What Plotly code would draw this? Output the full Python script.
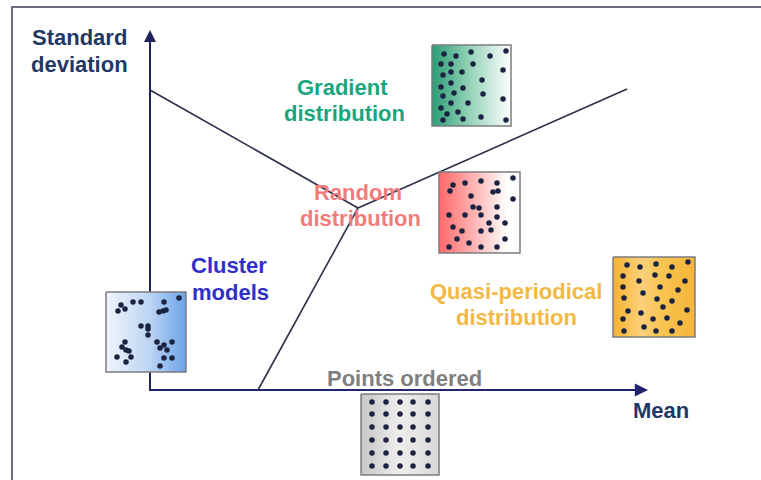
import plotly.graph_objects as go

# ---------------- data ----------------
# axes (diagram units: x = mean, y = std-dev, screen-like orientation)
yaxis_x = [150, 150]
yaxis_y = [391, 34]
xaxis_x = [149, 644]
xaxis_y = [390, 390]

# regime boundaries
boundary_x = [[150, 358], [358, 627], [358, 258]]
boundary_y = [[90, 208], [208, 89], [208, 390]]

# sample boxes: name, x0, y0, x1, y1
box_names = ["gradient", "random", "quasi", "cluster", "ordered"]
box_x0 = [432, 439, 613, 106, 361]
box_y0 = [45, 172, 257, 292, 394]
box_x1 = [511, 520, 695, 186, 439]
box_y1 = [126, 253, 337, 372, 475]
box_gradients = [
    [[0, "#2a9d74"], [0.45, "#8fd0b4"], [1, "#ffffff"]],
    [[0, "#ff6868"], [0.5, "#ffc0c0"], [0.85, "#ffffff"], [1, "#ffffff"]],
    [[0, "#f6b22e"], [0.35, "#fad07a"], [0.6, "#f8c450"], [1, "#f5b53a"]],
    [[0, "#f0f5fc"], [0.55, "#bcd4f3"], [1, "#6aa3ea"]],
    [[0, "#c6c6c6"], [0.5, "#eeeeee"], [1, "#d8d8d8"]],
]

gradient_dx = [444, 456, 471, 490, 506, 441, 451, 473, 503, 443, 451, 462, 482, 451, 463,
               441, 443, 454, 483, 503, 451, 468, 441, 458, 447, 443, 463, 481, 506]
gradient_dy = [54, 56, 52, 56, 51, 64, 64, 64, 70, 75, 72, 72, 80, 83, 88,
               87, 96, 93, 94, 99, 103, 103, 108, 112, 114, 120, 119, 117, 120]

random_dx = [453, 465, 481, 497, 513, 450, 471, 493, 498, 513, 473, 479, 497, 449, 465,
             481, 497, 489, 505, 453, 462, 481, 491, 457, 469, 505, 449, 481, 497]
random_dy = [185, 183, 181, 183, 178, 191, 196, 192, 191, 199, 207, 208, 207, 215, 215,
             215, 217, 223, 223, 227, 231, 231, 230, 239, 243, 239, 247, 247, 247]

quasi_dx = [627, 640, 656, 672, 688, 623, 639, 655, 669, 685, 623, 643, 660, 678, 624,
            657, 672, 663, 628, 641, 687, 623, 653, 667, 680, 624, 644, 656, 672]
quasi_dy = [265, 267, 264, 267, 262, 276, 281, 275, 276, 281, 287, 293, 287, 290, 298,
            299, 301, 307, 311, 313, 310, 319, 319, 318, 323, 331, 327, 331, 331]

cluster_dx = [121, 118, 125, 133, 141, 164, 179, 159, 163, 166, 141, 148, 148, 148,
              125, 122, 126, 129, 117, 126, 131, 157, 164, 172, 160, 167, 164, 172, 160]
cluster_dy = [305, 311, 309, 302, 302, 302, 298, 312, 311, 310, 326, 326, 329, 335,
              342, 347, 350, 351, 357, 362, 357, 342, 345, 342, 348, 350, 358, 358, 366]

ordered_cols = [372, 386, 400, 413, 428]
ordered_rows = [402, 414, 427, 440, 453, 466]

label_text = ["Standard", "deviation", "Gradient", "distribution", "Random", "distribution",
              "Cluster", "models", "Quasi-periodical", "distribution", "Points ordered", "Mean"]
label_x = [79, 79, 342, 344, 358, 360, 229, 230, 516, 516, 404, 661]
label_y = [37, 64, 87, 113, 192, 218, 265, 292, 291, 317, 378, 410]
label_colors = ["#1f3864", "#1f3864", "#19a67c", "#19a67c", "#f07c7c", "#f07c7c",
                "#3030c8", "#3030c8", "#f4b844", "#f4b844", "#7f7f7f", "#1f3864"]

# ---------------- figure ----------------
fig = go.Figure()

# frame of the slide
fig.add_trace(go.Scatter(x=[12, 12, 761], y=[480, 7, 7], mode="lines",
                         line=dict(color="#6b7080", width=2), hoverinfo="skip"))

# axis lines (under the boxes)
fig.add_trace(go.Scatter(x=yaxis_x, y=yaxis_y, mode="lines",
                         line=dict(color="#1e2458", width=2), hoverinfo="skip"))
fig.add_trace(go.Scatter(x=xaxis_x, y=xaxis_y, mode="lines",
                         line=dict(color="#24236e", width=2.2), hoverinfo="skip"))

# boundary lines
for bx, by in zip(boundary_x, boundary_y):
    fig.add_trace(go.Scatter(x=bx, y=by, mode="lines",
                             line=dict(color="#2b3148", width=1.6), hoverinfo="skip"))

# sample boxes with gradient fill
for i, name in enumerate(box_names):
    x0, y0, x1, y1 = box_x0[i], box_y0[i], box_x1[i], box_y1[i]
    fig.add_trace(go.Scatter(
        x=[x0, x1, x1, x0, x0], y=[y0, y0, y1, y1, y0], mode="lines",
        fill="toself",
        fillgradient=dict(type="horizontal", colorscale=box_gradients[i]),
        line=dict(color="#7c7c80", width=1.5), hoverinfo="skip"))

# dots
ox = [c for r in ordered_rows for c in ordered_cols]
oy = [r for r in ordered_rows for c in ordered_cols]
all_x = gradient_dx + random_dx + quasi_dx + cluster_dx + ox
all_y = gradient_dy + random_dy + quasi_dy + cluster_dy + oy
fig.add_trace(go.Scatter(x=all_x, y=all_y, mode="markers",
                         marker=dict(size=5.5, color="#1b2340"), hoverinfo="skip"))

# arrow heads at the axis tips
fig.add_annotation(x=150, y=30, ax=150, ay=60, xref="x", yref="y", axref="x", ayref="y",
                   showarrow=True, arrowhead=2, arrowsize=1.2, arrowwidth=2,
                   arrowcolor="#1e2458", text="")
fig.add_annotation(x=648, y=390, ax=610, ay=390, xref="x", yref="y", axref="x", ayref="y",
                   showarrow=True, arrowhead=2, arrowsize=1.2, arrowwidth=2.2,
                   arrowcolor="#24236e", text="")

for t, x, y, c in zip(label_text, label_x, label_y, label_colors):
    fig.add_annotation(x=x, y=y, xref="x", yref="y", text="<b>" + t + "</b>",
                       showarrow=False, xanchor="center", yanchor="middle",
                       font=dict(family="Liberation Sans, Arial, sans-serif", size=22, color=c))

fig.update_layout(
    width=761, height=480, margin=dict(l=0, r=0, t=0, b=0),
    paper_bgcolor="white", plot_bgcolor="white", showlegend=False,
    xaxis=dict(range=[0, 761], visible=False, fixedrange=True),
    yaxis=dict(range=[480, 0], visible=False, fixedrange=True),
)

fig.write_html("out.html", config={"displayModeBar": False},
               post_script="document.body.style.margin='0';document.body.style.overflow='hidden';")
